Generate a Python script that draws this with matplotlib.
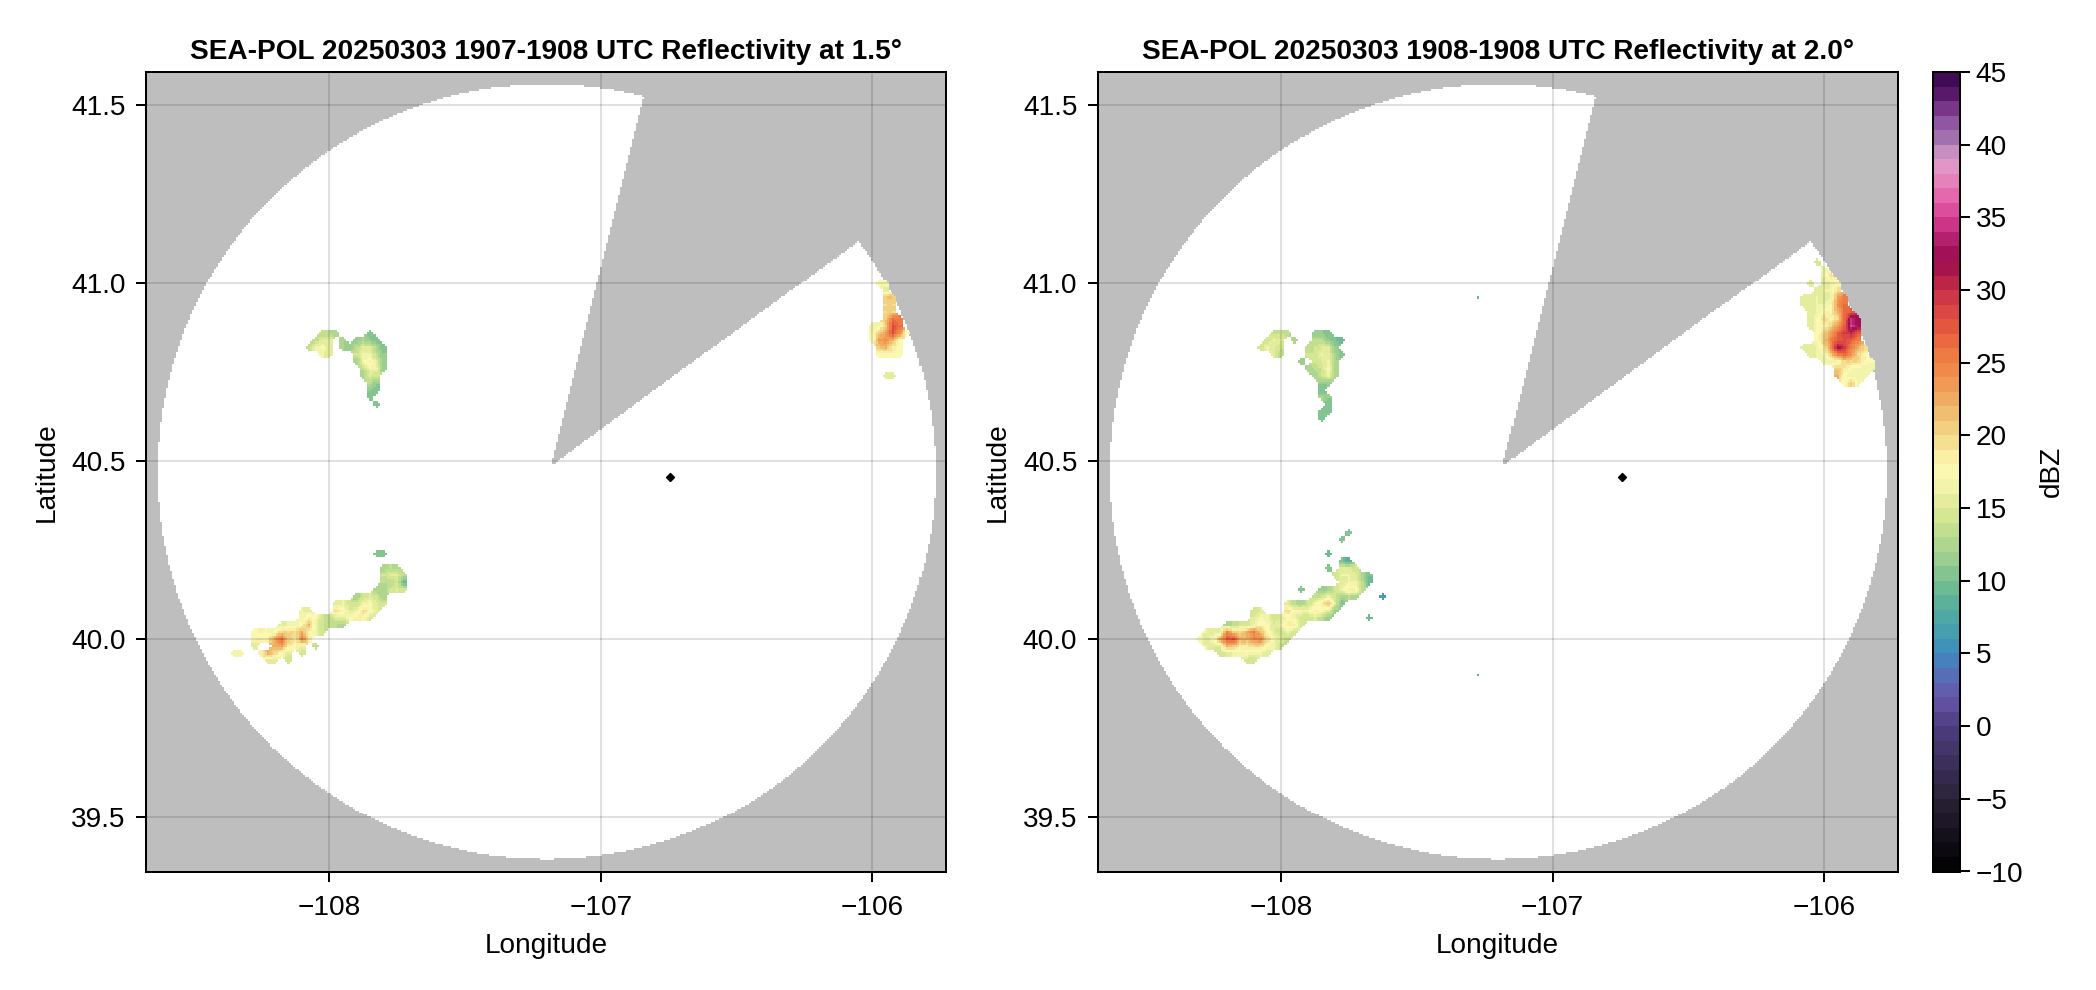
import numpy as np
import matplotlib
matplotlib.use("Agg")
import matplotlib.pyplot as plt
from matplotlib.colors import LinearSegmentedColormap, ListedColormap, Normalize
from matplotlib.cm import ScalarMappable

plt.rcParams['font.family'] = ['Liberation Sans', 'DejaVu Sans']

TITLES = ["SEA-POL 20250303 1907-1908 UTC Reflectivity at 1.5°",
          "SEA-POL 20250303 1908-1908 UTC Reflectivity at 2.0°"]
X_TICKS = [-108, -107, -106]
Y_TICKS = [39.5, 40.0, 40.5, 41.0, 41.5]
CB_TICKS = list(range(-10, 46, 5))

# radar coverage
CIRCLE_LON, CIRCLE_LAT = -107.20, 40.47
APEX_LON, APEX_LAT = -107.185, 40.487
RANGE_LON, RANGE_LAT = 1.432, 1.089
BLOCK_AZ = (14.1, 53.8)
SITE_LON, SITE_LAT = -106.746, 40.455

# reflectivity: (row, first column, dBZ values)
# column c is lon = -108.5 + 0.025 c, row r is lat = 41.2 - 0.02 r
P1_NW = [(17, 19, [13, 13, 12]), (18, 18, [13, 15, 15]), (18, 22, [12]),
         (19, 17, [13, 16, 17, 15]), (19, 22, [12, 11]), (20, 19, [16, 15]),
         (17, 26, [10]), (18, 24, [11, 12, 11, 10]), (19, 24, [13, 15, 15, 12, 10]),
         (20, 24, [14, 16, 16, 13, 11]), (21, 24, [12, 16, 19, 15, 11]),
         (22, 25, [13, 16, 16, 11]), (23, 25, [12, 15, 14]), (24, 26, [13, 11]),
         (25, 26, [11, 10]), (26, 26, [10]), (27, 27, [10])]
P1_SW = [(48, 27, [10, 10]), (50, 28, [12, 13, 12]), (51, 28, [14, 15, 15, 13]),
         (52, 28, [13, 13, 14, 9]), (53, 27, [12, 12, 14, 15, 14]),
         (54, 24, [12, 14, 15, 14, 12]), (55, 21, [15, 16, 14, 14, 16, 17, 15, 14]),
         (56, 16, [16, 15]), (56, 21, [20, 18, 15, 16, 20, 18, 15]),
         (57, 16, [16, 19, 17, 14]), (57, 20, [13, 15, 15, 17, 19, 18, 14]),
         (58, 13, [15, 16, 16, 18, 22, 16, 14, 13, 13, 12]),
         (59, 9, [17, 19, 16, 17, 20, 20, 20, 22, 18, 16, 14]),
         (60, 9, [17, 16, 19, 23, 26, 21, 19, 25, 19]),
         (61, 9, [15]), (61, 12, [22, 23, 19, 17, 16]), (61, 18, [13]),
         (62, 6, [16, 16]), (62, 10, [19, 22, 20, 17, 15]), (62, 16, [14]),
         (63, 11, [15, 15]), (63, 14, [14])]
P1_E = [(10, 101, [17, 17]), (11, 102, [15]), (12, 102, [21, 21]), (13, 102, [20, 20]),
        (14, 102, [20, 20]), (15, 102, [21, 26, 25]), (16, 100, [16, 16, 21, 28, 26]),
        (17, 100, [17, 21, 23, 28, 24, 18]), (18, 100, [17, 23, 24, 22, 18]),
        (19, 101, [21, 22, 19, 17]), (20, 101, [17, 17, 18, 17]), (23, 102, [15, 15])]

P2_NW = [(17, 19, [13, 14, 13]), (18, 18, [14, 16, 15]), (18, 22, [12]),
         (19, 17, [14, 16, 15, 14]), (20, 19, [15, 13]),
         (17, 25, [11, 11, 10]), (18, 25, [13, 13, 11, 10, 9]),
         (19, 24, [13, 14, 15, 15, 11]), (20, 24, [14, 14, 16, 15, 12, 10]),
         (21, 23, [11]), (21, 25, [14, 15, 16, 12]), (22, 24, [12, 13, 14, 17, 12]),
         (23, 25, [12, 14, 16, 12]), (24, 26, [11, 11]), (25, 26, [10]),
         (26, 26, [12, 11]), (27, 27, [10]), (28, 26, [10, 10]), (29, 26, [10])]
P2_SW = [(45, 30, [10]), (46, 29, [10]), (48, 27, [9]), (49, 29, [10, 8]),
         (50, 27, [10]), (50, 29, [15, 15, 14]), (51, 28, [14, 16, 16, 15, 12, 10]),
         (52, 29, [15, 16, 16, 13, 9]), (53, 23, [10]),
         (53, 26, [11, 12, 14, 16, 19, 18, 13]),
         (54, 25, [13, 14, 16, 14, 12, 13, 12]), (54, 35, [6]),
         (55, 21, [15, 13, 12, 14, 16, 19, 21, 15, 10]),
         (56, 16, [14, 15]), (56, 21, [20, 17, 17, 16, 19, 17, 15, 11]),
         (57, 16, [15, 17, 16, 14]), (57, 20, [15, 17, 16, 14, 14, 15, 13, 11]), (57, 33, [9]),
         (58, 12, [12, 13, 14, 14, 16, 18, 17, 15, 16, 19, 19, 14]),
         (59, 9, [16, 15, 15, 25, 21, 20, 22, 25, 21, 18, 15, 14, 16, 14]),
         (60, 8, [17, 15, 17, 23, 27, 28, 22, 22, 24, 25, 20, 17, 15, 13]),
         (61, 9, [16, 15, 15, 22, 21, 19, 19, 20, 20, 17, 16, 13]),
         (62, 11, [14, 15, 16, 16, 17, 16, 16, 15]), (63, 15, [14, 14])]
P2_E = [(7, 99, [14]), (8, 100, [16]), (9, 100, [16, 20]), (10, 98, [15]),
        (10, 100, [15, 16, 18]), (11, 99, [15, 16, 16, 20]),
        (12, 97, [15, 15, 16, 15, 16, 23, 25]), (13, 97, [15, 15, 16, 16, 17, 24, 26]),
        (14, 98, [15, 16, 18, 18, 22, 26, 27]), (15, 98, [15, 17, 20, 18, 20, 26, 34, 32]),
        (16, 98, [15, 17, 18, 20, 23, 27, 35, 32]), (17, 99, [17, 20, 23, 27, 29, 30, 27]),
        (18, 99, [17, 21, 25, 27, 28, 27, 25]), (19, 97, [15, 15, 16, 19, 24, 32, 29, 25, 22, 20]),
        (20, 98, [15, 16, 17, 21, 25, 26, 24, 20, 18]), (21, 100, [16, 16, 17, 20, 20, 20, 18, 17]),
        (22, 102, [21, 19, 17, 16, 16, 16]), (23, 102, [22, 17, 16, 16, 16]),
        (24, 103, [17, 21, 16])]
P2_TINY = [(12, 49, [9]), (65, 49, [8])]

PANELS = [(P1_NW + P1_SW + P1_E, []), (P2_NW + P2_SW + P2_E, P2_TINY)]

# colour scale
CMAP_ANCHORS = [(-10, '#000000'), (-5, '#2a2238'), (0, '#4f3d80'), (2, '#6556a8'), (4, '#4f77bb'),
                (5, '#3d8cbe'), (7, '#4aa5a7'), (9, '#62b596'), (10, '#7bc090'), (12, '#a5d28f'),
                (14, '#cde48f'), (15, '#dde996'), (17, '#f9f8b4'), (18, '#fdf8b0'), (19, '#f5e69a'),
                (21, '#f0c878'), (23, '#efa25a'), (25, '#f08346'), (27, '#e8603f'), (29, '#d64045'),
                (31, '#b51e48'), (32, '#9a0b4e'), (33, '#a8165f'), (34, '#c22a7e'), (35, '#d53b8f'),
                (36, '#e25ea5'), (38, '#e58cc0'), (39, '#e09dcc'), (40, '#ad7fb6'), (41, '#9a65a9'),
                (42, '#8a4a9a'), (43, '#6a2478'), (44, '#4e1260'), (45, '#35054d')]
VMIN, VMAX, NLEV = -10, 45, 55
smooth = LinearSegmentedColormap.from_list(
    'refl', [((v - VMIN) / (VMAX - VMIN), c) for v, c in CMAP_ANCHORS], N=512)
cmap = ListedColormap(smooth((np.arange(NLEV) + 0.5) / NLEV))
norm = Normalize(VMIN, VMAX)

NR, NC = 72, 116
UP = 3


def field(rows, tiny):
    vals = np.zeros((NR, NC))
    weight = np.zeros((NR, NC))
    for group, wgt in ((rows, 1.0), (tiny, 0.7)):
        for r, c0, v in group:
            vals[r, c0:c0 + len(v)] = v
            weight[r, c0:c0 + len(v)] = wgt
    tent = 1 - np.abs(np.arange(-UP + 1, UP)) / UP

    def up(a):
        out = np.zeros((NR * UP, NC * UP))
        out[::UP, ::UP] = a
        out = np.apply_along_axis(lambda s: np.convolve(s, tent, mode='same'), 0, out)
        return np.apply_along_axis(lambda s: np.convolve(s, tent, mode='same'), 1, out)

    w = up(weight)
    v = up(vals * weight)
    return np.ma.masked_where(w < 0.5, v / np.maximum(w, 1e-6))


def coverage():
    lon = np.arange(-108.72, -105.68, 0.0074)
    lat = np.arange(39.30, 41.64, 0.0056)
    lx, ly = np.meshgrid(lon[:-1] + 0.0037, lat[:-1] + 0.0028)
    cx = (lx - CIRCLE_LON) / RANGE_LON
    cy = (ly - CIRCLE_LAT) / RANGE_LAT
    az = np.degrees(np.arctan2((lx - APEX_LON) / RANGE_LON, (ly - APEX_LAT) / RANGE_LAT))
    inside = (cx ** 2 + cy ** 2 <= 1) & ~((az >= BLOCK_AZ[0]) & (az <= BLOCK_AZ[1]))
    return lon, lat, np.ma.masked_where(~inside, np.ones_like(lx))


W, H = 2096, 990
fig = plt.figure(figsize=(W / 100, H / 100), dpi=100)
FS = 20.2
LW = 1.45


def box(x0, x1, y0, y1):
    return [x0 / W, 1 - y1 / H, (x1 - x0) / W, (y1 - y0) / H]


lon_e, lat_e, cov = coverage()
flon = -108.5 + 0.025 * (np.arange(NC * UP + 1) - 0.5) / UP
flat = 41.2 - 0.02 * (np.arange(NR * UP + 1) - 0.5) / UP

for i, x0 in enumerate([146, 1097.7]):
    ax = fig.add_axes(box(x0, x0 + 800, 72, 871.5))
    ax.set_facecolor('#bebebe')
    ax.pcolormesh(lon_e, lat_e, cov, cmap=ListedColormap(['white']), shading='flat', zorder=1)
    ax.pcolormesh(flon, flat, field(*PANELS[i]), cmap=cmap, norm=norm, shading='flat', zorder=2)
    ax.plot([SITE_LON], [SITE_LAT], marker='D', ms=4, color='black', zorder=4, ls='none')
    ax.set_xlim(-108.675, -105.729)
    ax.set_ylim(39.347, 41.594)
    ax.set_xticks(X_TICKS)
    ax.set_yticks(Y_TICKS)
    ax.set_yticklabels([f"{t:.1f}" for t in Y_TICKS])
    ax.grid(True, color='black', alpha=0.12, lw=1.45, zorder=3)
    ax.set_axisbelow(False)
    ax.tick_params(length=7.2, width=LW, labelsize=FS, grid_alpha=0.12)
    ax.tick_params(axis='x', pad=9.5)
    ax.tick_params(axis='y', pad=7.5)
    for s in ax.spines.values():
        s.set_linewidth(LW)
        s.set_zorder(6)
    ax.set_xlabel('Longitude', fontsize=FS, labelpad=9)
    ax.set_ylabel('Latitude', fontsize=FS, labelpad=8.5)
    ax.set_title(TITLES[i], fontsize=FS, fontweight='bold', pad=9.5)

cax = fig.add_axes(box(1933, 1959.5, 72, 871.5))
cb = fig.colorbar(ScalarMappable(norm=norm, cmap=cmap), cax=cax)
cb.set_ticks(CB_TICKS)
cb.ax.tick_params(length=7.2, width=LW, labelsize=FS, pad=4.5)
cb.outline.set_linewidth(LW)
cb.set_label('dBZ', fontsize=FS, labelpad=11)

fig.savefig('out.png', dpi=100)
